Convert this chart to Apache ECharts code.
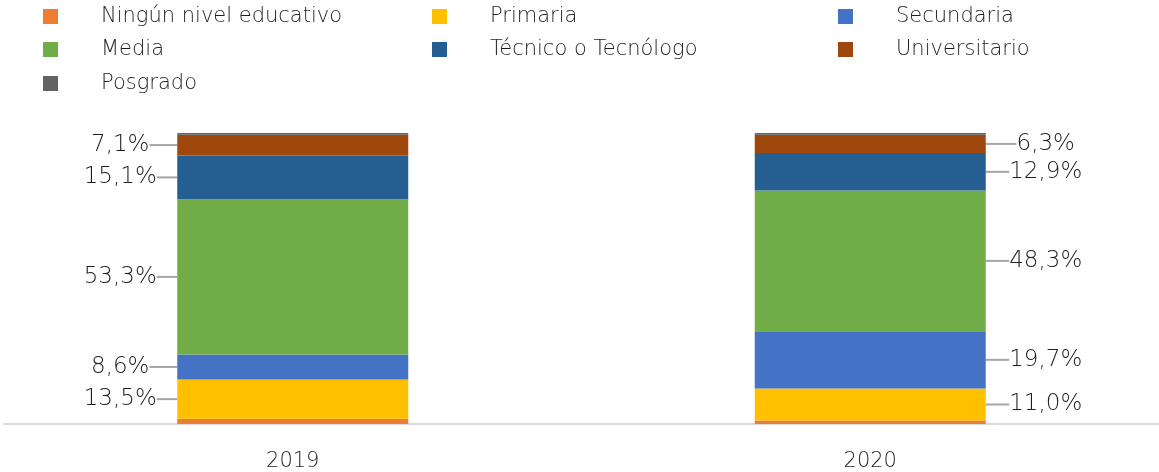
<!DOCTYPE html>
<html>
<head>
<meta charset="utf-8">
<script src="https://cdn.jsdelivr.net/npm/echarts@6/dist/echarts.min.js"></script>
<style>
  html, body { margin: 0; padding: 0; background: #fff; }
  #chart { width: 1159px; height: 472px; }
</style>
</head>
<body>
<div id="chart"></div>
<script>
// categorías y valores (%)
const years = ['2019', '2020'];
const seriesNames = ['Ningún nivel educativo', 'Primaria', 'Secundaria', 'Media', 'Técnico o Tecnólogo', 'Universitario', 'Posgrado'];
const ninguno = [1.8, 1.2];
const primaria = [13.5, 11.0];
const secundaria = [8.6, 19.7];
const media = [53.3, 48.3];
const tecnico = [15.1, 12.9];
const universitario = [7.1, 6.3];
const posgrado = [0.6, 0.6];

const values = [ninguno, primaria, secundaria, media, tecnico, universitario, posgrado];
const colors = ['#ED7D31', '#FFC000', '#4472C4', '#70AD47', '#255E91', '#9E480E', '#636363'];
const showLabel = [false, true, true, true, true, true, false];

// posiciones de la leyenda (3 columnas)
const legendPos = [
  [43, 6], [432, 6], [838, 6],
  [43, 39], [432, 39], [838, 39],
  [43, 73]
];

const textColor = '#1f1f1f';
const fontFamily = '"DejaVu Sans", "Open Sans", sans-serif';
const fontWeight = 200;

const chart = echarts.init(document.getElementById('chart'));

const fmt = (v) => v.toFixed(1).replace('.', ',') + '%';

const legends = seriesNames.map((name, i) => ({
  left: legendPos[i][0],
  top: legendPos[i][1],
  padding: 0,
  icon: 'rect',
  itemWidth: 15,
  itemHeight: 15,
  selectedMode: false,
  data: [name],
  textStyle: {
    fontFamily: fontFamily,
    fontWeight: fontWeight,
    fontSize: 21,
    color: textColor,
    padding: [0, 0, 0, 38]
  }
}));

const series = seriesNames.map((name, i) => ({
  name: name,
  type: 'bar',
  stack: 'total',
  barWidth: '40%',
  itemStyle: { color: colors[i] },
  data: values[i].map((v, j) => ({
    value: v,
    label: {
      show: showLabel[i],
      position: j === 0 ? 'left' : 'right',
      distance: 5
    }
  })),
  label: {
    formatter: (p) => fmt(p.value),
    fontFamily: fontFamily,
    fontWeight: fontWeight,
    fontSize: 23,
    color: textColor
  },
  labelLine: {
    show: true,
    lineStyle: { color: '#a6a6a6', width: 2 }
  },
  labelLayout: (p) => {
    const cy = p.rect.y + p.rect.height / 2;
    if (p.dataIndex === 0) {
      return { x: p.rect.x - 57, y: cy, align: 'center', verticalAlign: 'middle' };
    }
    return { x: p.rect.x + p.rect.width + 60, y: cy, align: 'center', verticalAlign: 'middle' };
  }
}));

const option = {
  animation: false,
  color: colors,
  legend: legends,
  grid: { left: 4, right: 0, top: 133, bottom: 48 },
  xAxis: {
    type: 'category',
    data: years,
    axisLine: { lineStyle: { color: '#d9d9d9', width: 2 } },
    axisTick: { show: false },
    axisLabel: {
      fontFamily: fontFamily,
      fontWeight: fontWeight,
      fontSize: 21,
      color: textColor,
      margin: 27
    }
  },
  yAxis: {
    type: 'value',
    min: 0,
    max: 100,
    show: false
  },
  series: series
};

chart.setOption(option);
</script>
</body>
</html>
